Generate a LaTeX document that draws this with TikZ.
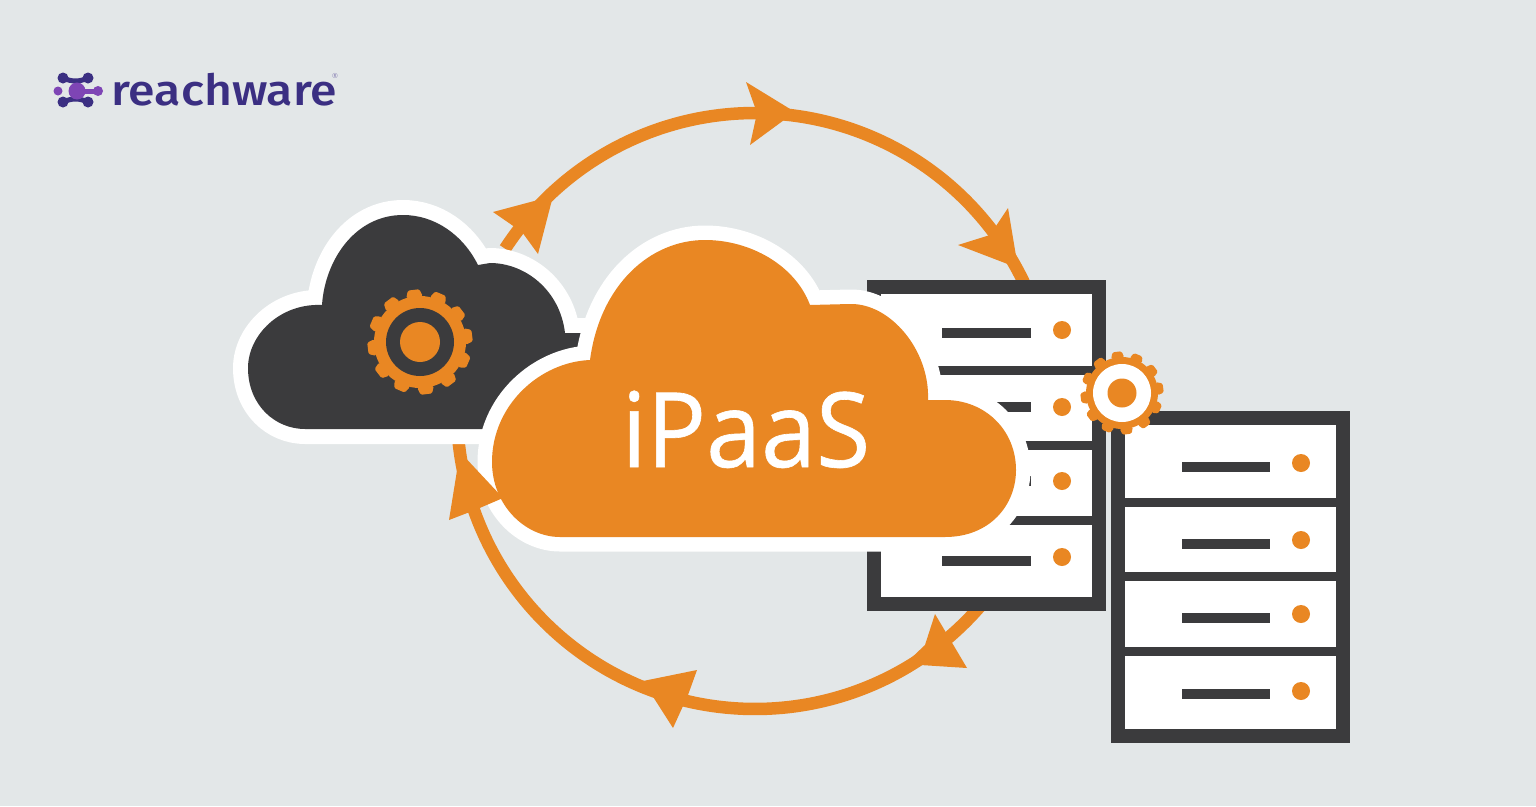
\documentclass[tikz,border=0pt]{standalone}
\usepackage{fontspec}
\setmainfont{Open Sans}
\newfontfamily\cloudfont[FakeBold=0.6]{Open Sans}
\newfontfamily\logofont{Fira Sans Medium}
\usetikzlibrary{calc}
\definecolor{bgc}{HTML}{E3E7E8}
\definecolor{org}{HTML}{E98723}
\definecolor{drk}{HTML}{3B3B3D}
\definecolor{ind}{HTML}{3B2F82}
\definecolor{pur}{HTML}{7E45B5}
\tikzset{
  ringline/.style={draw=org,line width=12.5pt},
  headfill/.style={fill=org},
  halo/.style={draw=white,line width=29pt,line join=round},
  frameline/.style={draw=drk,line width=14pt,fill=white,line join=miter},
  rowline/.style={draw=drk,line width=9pt},
  barline/.style={draw=drk,line width=9.5pt},
}
% \cogwheel{x}{y}{inner radius}{tooth radius}{teeth}{colour}
\newcommand{\cogwheel}[6]{%
  \fill[#6] (#1,#2) circle[radius=#3];
  \foreach \a in {1,...,#5}{
    \fill[#6,rounded corners=1.5pt,rotate around={\a*360/#5+7:(#1,#2)}]
      ($(#1,#2)+(-0.16*#4,-#3+1)$) -- ($(#1,#2)+(-0.11*#4,-#4)$) -- ($(#1,#2)+(0.11*#4,-#4)$) -- ($(#1,#2)+(0.16*#4,-#3+1)$) -- cycle;
  }%
}
% \rack{x0}{y0}{x1}{y1}{div1}{div2}{div3}
\newcommand{\rack}[7]{%
  \draw[frameline] (#1+7,#2+7) rectangle (#3-7,#4-7);
  \foreach \d in {#5,#6,#7}{\draw[rowline] (#1+7,\d) -- (#3-7,\d);}
}
\begin{document}
\begin{tikzpicture}[x=1pt,y=-1pt]
\useasboundingbox (0,0) rectangle (1536,806);
\fill[bgc] (0,0) rectangle (1536,806);

% ring
\draw[ringline] plot[domain=213:337,samples=90,smooth] ({755+298*cos(\x)},{411+298*sin(\x)});
\draw[ringline] plot[domain=38:177,samples=90,smooth] ({755+298*cos(\x)},{411+298*sin(\x)});
% arrowheads under the clouds
\fill[headfill] (746,82) -- (795,112) -- (750,145) -- (757,113) -- cycle;
\fill[headfill] (1008,208) -- (1018,268) -- (958,245) -- (990,235) -- cycle;
\fill[headfill] (935,614) -- (967,668) -- (905,664) -- (925,645) -- cycle;
\fill[headfill] (697,670) -- (643,681) -- (673,728) -- (688,695) -- cycle;
\fill[headfill] (493,212) -- (553,196) -- (538,254) -- (522,232) -- cycle;

% servers
\rack{867}{280}{1106}{611}{370}{445}{520}
\foreach \y in {333,407,481,561}{\draw[barline] (942,\y) -- (1031,\y);}
\foreach \y in {330,407,481,557}{\fill[org] (1062,\y) circle[radius=9];}
\rack{1111}{411}{1350}{743}{502.5}{576.5}{651}
\foreach \y in {467,544,618,694}{\draw[barline] (1182,\y) -- (1270,\y);}
\foreach \y in {463,540,614,691}{\fill[org] (1301,\y) circle[radius=9];}

% dark cloud
\def\darkcloud{(305,429) -- (600,429) -- (600,333) -- (565,333)
  .. controls (560,290) and (525,263) .. (490,263) -- (478,265)
  .. controls (463,235) and (435,215) .. (403,215)
  .. controls (355,215) and (325,260) .. (322,305)
  .. controls (280,303) and (248,335) .. (248,368)
  .. controls (248,405) and (275,429) .. (305,429) -- cycle}
\draw[halo,line width=30pt] \darkcloud;
\fill[drk] \darkcloud;
\cogwheel{420}{342}{46}{52.5}{12}{org}
\fill[drk] (420,342) circle[radius=34];
\fill[org] (420,342) circle[radius=20];

% orange cloud
\def\orangecloud{(560,537) -- (945,537)
  .. controls (990,537) and (1016,505) .. (1016,470)
  .. controls (1016,430) and (985,400) .. (945,400) -- (928,400)
  .. controls (930,350) and (890,303) .. (850,304) -- (810,305)
  .. controls (795,265) and (750,240) .. (705,240)
  .. controls (650,240) and (600,285) .. (590,360)
  .. controls (540,362) and (492,405) .. (492,462)
  .. controls (492,505) and (525,537) .. (560,537) -- cycle}
\draw[halo] \orangecloud;
% left arrowhead lies over the white edge
\fill[headfill] (449,520) -- (460,452) -- (503,498) -- (475,510) -- cycle;
\fill[org] \orangecloud;
\node[text=white,inner sep=0pt,anchor=base,font=\cloudfont\fontsize{104}{104}\selectfont,xscale=0.95] (ipaas) at (746,467) {iPaaS};

% small gear
\cogwheel{1122}{393}{36}{41.5}{12}{org}
\fill[white] (1122,393) circle[radius=29];
\fill[org] (1122,393) circle[radius=14.5];

% logo
\draw[ind,line width=5pt,line cap=round] (63,78) .. controls (72,82) and (79,82) .. (88,78);
\draw[ind,line width=5pt,line cap=round] (63,102) .. controls (72,98) and (79,98) .. (88,102);
\fill[ind] (63,78) circle[radius=5.5] (88,78) circle[radius=5.5] (63,102) circle[radius=5.5] (88,102) circle[radius=5.5];
\draw[pur,line width=5pt,line cap=round] (78,91) -- (98,91);
\fill[pur] (58,91) circle[radius=4.5] (77,91) circle[radius=8.5] (98,91) circle[radius=5];
\node[text=ind,inner sep=0pt,anchor=base west,font=\logofont\fontsize{43}{43}\selectfont,xscale=1.12] (brand) at (111,105) {reachware};
\node[text=ind!60,inner sep=0pt,font=\fontsize{7}{7}\selectfont] (regmark) at (335,76) {®};
\end{tikzpicture}
\end{document}
